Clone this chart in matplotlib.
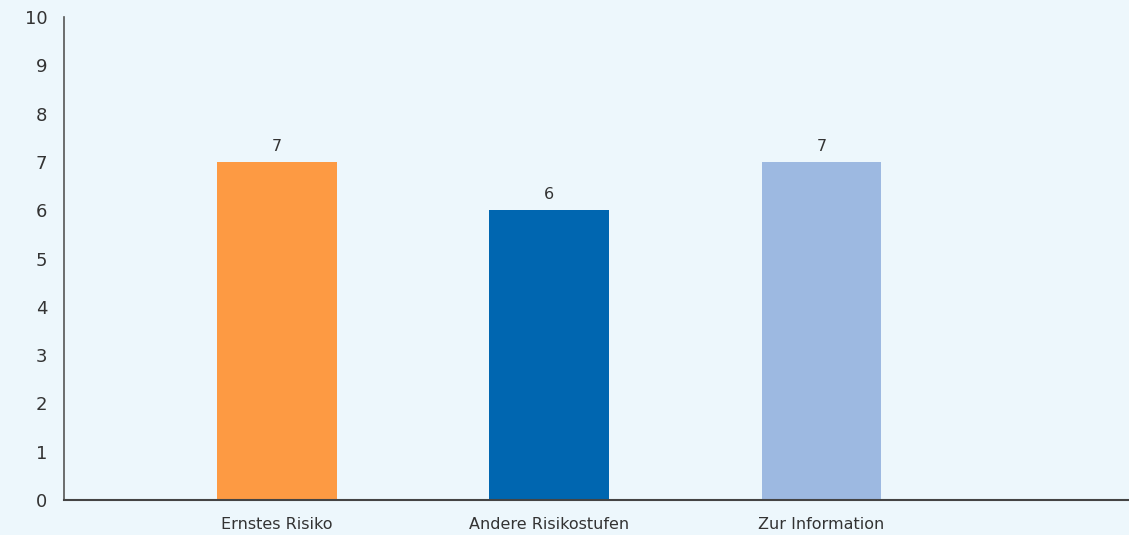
import matplotlib
matplotlib.use("Agg")
import matplotlib.pyplot as plt

plt.rcParams["font.family"] = ["DejaVu Sans"]

# chart data
categories = ["Ernstes Risiko", "Andere Risikostufen", "Zur Information"]
counts = [7, 6, 7]
bar_colors = ["#FD9A43", "#0066B0", "#9DB9E1"]
y_ticks = list(range(0, 11))

BG = "#EDF7FC"
FG = "#333333"

fig = plt.figure(figsize=(11.29, 5.35), dpi=100)
fig.patch.set_facecolor(BG)
ax = fig.add_axes([64 / 1129, 35 / 535, 1065 / 1129, 483 / 535])
ax.set_facecolor(BG)

x = list(range(len(categories)))
ax.bar(x, counts, width=0.44, color=bar_colors, zorder=2)
for xi, v in zip(x, counts):
    ax.text(xi, v + 0.16, str(v), ha="center", va="bottom", fontsize=11.5, color=FG)

ax.set_xlim(-0.783, 3.13)
ax.set_ylim(0, 10)
ax.set_yticks(y_ticks)
ax.set_xticks(x)
ax.set_xticklabels(categories, fontsize=11.5, color=FG)
ax.tick_params(axis="y", length=0, pad=12, labelsize=13, labelcolor=FG)
ax.tick_params(axis="x", length=0, pad=12)

for side in ("top", "right"):
    ax.spines[side].set_visible(False)
ax.spines["left"].set_color("#555555")
ax.spines["bottom"].set_color("#444444")
ax.spines["left"].set_linewidth(1.2)
ax.spines["bottom"].set_linewidth(1.5)

fig.savefig("out.png", dpi=100, facecolor=BG)
